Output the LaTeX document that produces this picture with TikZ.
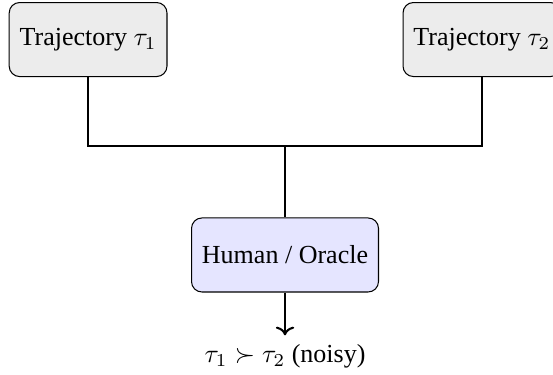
\documentclass[tikz,border=0pt]{standalone}
\usepackage{fontspec}
\setmainfont{Liberation Serif}
\usepackage{amsmath, amssymb}
\usepackage{tikz}
\usetikzlibrary{arrows.meta}
\usetikzlibrary{positioning}

\tikzset{
    trajbox/.style={draw, rounded corners, fill=gray!15, minimum height=1cm, inner sep=4pt},
    oraclebox/.style={draw, rounded corners, fill=blue!10, minimum height=1cm, inner sep=4pt},
    link/.style={thick}
}

\begin{document}
\begin{tikzpicture}
            \useasboundingbox (-1.19,0.534) rectangle (6.28,-4.53);
            \draw (0,0) node[trajbox]                  (t1) {Trajectory $\tau_1$};
            \draw (5.32,0) node[trajbox]               (t2) {Trajectory $\tau_2$};
            \draw (2.66,-2.91) node[oraclebox]         (o) {Human / Oracle};
            \draw (2.66,-4.28) node                    (p) {$\tau_1 \succ \tau_2$ (noisy)};
            \coordinate (j) at (2.66,-1.44);
            \draw[link] (t1.south) |- (j);
            \draw[link] (t2.south) |- (j);
            \draw[link] (j) -- (o.north);
            \draw[link, ->] (o.south) -- (p.north);

            \end{tikzpicture}
\end{document}
